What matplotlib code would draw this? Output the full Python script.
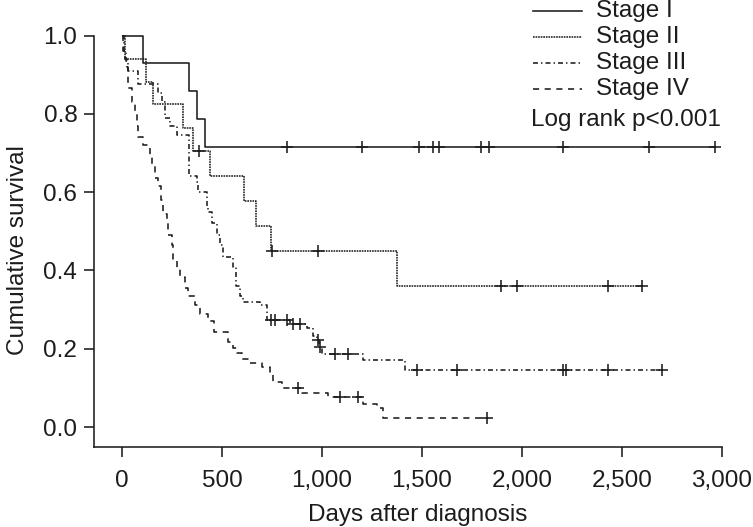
import numpy as np
import matplotlib
matplotlib.use("Agg")
import matplotlib.pyplot as plt
from matplotlib.lines import Line2D

plt.rcParams['font.family'] = ['Liberation Sans', 'DejaVu Sans']
plt.rcParams['lines.scale_dashes'] = False

# ---------------- data ----------------
stage_names = ["Stage I", "Stage II", "Stage III", "Stage IV"]

t1 = [0, 107, 337, 377, 415]
s1 = [1.0, 0.929, 0.857, 0.786, 0.714]
c1 = [826, 1201, 1485, 1557, 1585, 1795, 1835, 2207, 2635, 2965]

t2 = [0, 15, 120, 157, 303, 353, 440, 611, 670, 743, 1375]
s2 = [1.0, 0.941, 0.882, 0.824, 0.765, 0.706, 0.642, 0.578, 0.513, 0.449, 0.359]
c2 = [387, 748, 982, 1895, 1973, 2432, 2598]

t3 = [0, 8, 18, 30, 78, 180, 198, 215, 240, 275, 335, 373, 380, 423, 430, 448,
      473, 490, 505, 555, 570, 590, 605, 690, 723, 840, 923, 957, 975, 985,
      1000, 1205, 1415]
s3 = [1.0, 0.96, 0.935, 0.91, 0.875, 0.852, 0.83, 0.79, 0.77, 0.745, 0.64, 0.627,
      0.60, 0.565, 0.55, 0.52, 0.49, 0.465, 0.435, 0.41, 0.36, 0.335, 0.32,
      0.312, 0.273, 0.263, 0.253, 0.232, 0.222, 0.205, 0.187, 0.171, 0.146]
c3 = [743, 763, 823, 855, 890, 978, 988, 1065, 1132, 1473, 1673, 2205, 2222,
      2432, 2700]

t4 = [0, 5, 15, 25, 30, 48, 65, 73, 80, 106, 140, 148, 165, 182, 195, 206, 223,
      232, 248, 257, 273, 290, 315, 332, 365, 390, 432, 460, 530, 555, 575, 600,
      630, 700, 740, 755, 800, 900, 1030, 1205, 1275, 1305]
s4 = [1.0, 0.96, 0.94, 0.92, 0.867, 0.83, 0.80, 0.77, 0.74, 0.72, 0.695, 0.67,
      0.635, 0.615, 0.58, 0.545, 0.52, 0.49, 0.465, 0.43, 0.405, 0.382, 0.355,
      0.335, 0.312, 0.289, 0.272, 0.243, 0.217, 0.202, 0.19, 0.175, 0.164,
      0.153, 0.14, 0.115, 0.099, 0.088, 0.077, 0.059, 0.049, 0.023]
c4 = [880, 1090, 1180, 1825]

xticks = [0, 500, 1000, 1500, 2000, 2500, 3000]
xtick_labels = ["0", "500", "1,000", "1,500", "2,000", "2,500", "3,000"]
yticks = [0.0, 0.2, 0.4, 0.6, 0.8, 1.0]
ytick_labels = ["0.0", "0.2", "0.4", "0.6", "0.8", "1.0"]
stat_text = "Log rank p<0.001"

# ---------------- styles ----------------
ink = "#1e1b1c"
styles = [
    dict(linestyle="-"),
    dict(dashes=(1.2, 0.65)),
    dict(dashes=(3.6, 2.2, 1.0, 2.2)),
    dict(dashes=(4.4, 4.0)),
]
lw = 1.15
fs = 17.5

W, H = 753, 527
fig = plt.figure(figsize=(W / 100, H / 100), dpi=100)
ax_l, ax_r = 94 / W, 722 / W
ax_b, ax_t = (H - 447) / H, (H - 35.5) / H
ax = fig.add_axes([ax_l, ax_b, ax_r - ax_l, ax_t - ax_b])
ax.set_xlim(-140, 3000)
ax.set_ylim(-0.051, 1.0)

series = [(t1, s1, c1), (t2, s2, c2), (t3, s3, c3), (t4, s4, c4)]
for (t, s, c), st in zip(series, styles):
    t = np.asarray(t, float)
    s = np.asarray(s, float)
    c = np.asarray(c, float)
    end = max(t[-1], c.max() if len(c) else t[-1])
    x = np.append(t, end)
    y = np.append(s, s[-1])
    ax.plot(x, y, drawstyle="steps-post", color=ink, lw=lw, clip_on=False,
            solid_capstyle="butt", dash_capstyle="butt", **st)
    idx = np.searchsorted(t, c, side="right") - 1
    ax.plot(c, s[idx], linestyle="none", marker="+", ms=8, mew=1.15,
            color=ink, clip_on=False)

for side in ("top", "right"):
    ax.spines[side].set_visible(False)
for side in ("left", "bottom"):
    ax.spines[side].set_color(ink)
    ax.spines[side].set_linewidth(1.15)

ax.set_xticks(xticks)
ax.set_xticklabels(xtick_labels)
ax.set_yticks(yticks)
ax.set_yticklabels(ytick_labels)
ax.tick_params(axis="both", direction="out", length=7, width=1.15,
               colors=ink, labelsize=fs)
ax.tick_params(axis="y", pad=5)
ax.tick_params(axis="x", pad=9.5)

ax.set_xlabel("Days after diagnosis", fontsize=fs, color=ink)
ax.set_ylabel("Cumulative survival", fontsize=fs, color=ink)
ax.xaxis.set_label_coords(0.515, -0.138)
ax.yaxis.set_label_coords(-0.104, 0.479)

# legend (drawn manually in figure pixels)
leg_y = [11, 37, 63, 89]
for name, st, yy in zip(stage_names, styles, leg_y):
    fy = (H - yy) / H
    fig.add_artist(Line2D([533 / W, 582 / W], [fy, fy], color=ink, lw=lw,
                          transform=fig.transFigure, **st))
    fig.text(596 / W, fy, name, fontsize=fs, color=ink, va="center",
             ha="left")
fig.text(531 / W, (H - 120) / H, stat_text, fontsize=fs, color=ink,
         va="center", ha="left")

fig.savefig("out.png", dpi=100)
